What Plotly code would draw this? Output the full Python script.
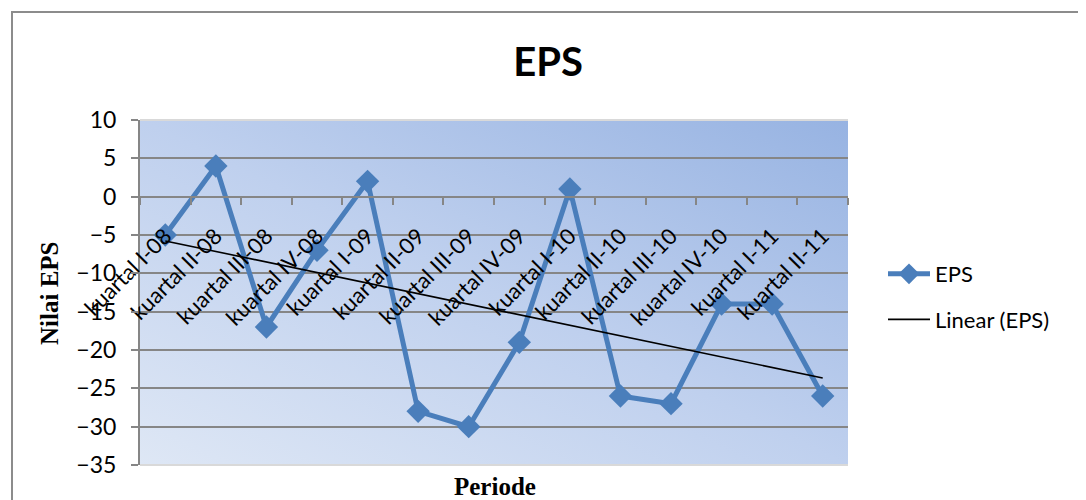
import base64
import numpy as np
import plotly.graph_objects as go

# ---------------- data ----------------
categories = ["kuartal I-08", "kuartal II-08", "kuartal III-08", "kuartal IV-08",
              "kuartal I-09", "kuartal II-09", "kuartal III-09", "kuartal IV-09",
              "kuartal I-10", "kuartal II-10", "kuartal III-10", "kuartal IV-10",
              "kuartal I-11", "kuartal II-11"]
eps_values = [-5, 4, -17, -7, 2, -28, -30, -19, 1, -26, -27, -14, -14, -26]
y_ticks = [10, 5, 0, -5, -10, -15, -20, -25, -30, -35]

# linear trend (Excel "Linear (EPS)")
idx = np.arange(1, len(eps_values) + 1)
slope, intercept = np.polyfit(idx, eps_values, 1)
trend_values = slope * idx + intercept

# ---------------- layout geometry ----------------
OFF = 8                     # page body margin of the rendered html
W, H = 1086 - OFF, 500 - OFF
# plot area in page pixels
L, R, T, B = 140, 848, 120, 465


def px(x):
    return (x - L) / (R - L)


def py(y):
    return (B - y) / (B - T)


BLUE = "#4a7ebb"
GRID = "#868686"

fig = go.Figure()
fig.add_trace(go.Scatter(
    x=categories, y=eps_values, mode="lines+markers", name="EPS",
    line=dict(color=BLUE, width=5),
    marker=dict(symbol="diamond", size=18, color=BLUE),
    legendgroup="a",
))
fig.add_trace(go.Scatter(
    x=categories, y=trend_values, mode="lines", name="Linear (EPS)",
    line=dict(color="black", width=1.6),
    legendgroup="b",
))

# gradient plot-area background
svg = ('<svg xmlns="http://www.w3.org/2000/svg" width="708" height="345" '
       'viewBox="0 0 708 345" preserveAspectRatio="none"><defs>'
       '<linearGradient id="g" x1="0" y1="1" x2="1" y2="0">'
       '<stop offset="0" stop-color="#dee7f5"/>'
       '<stop offset="0.5" stop-color="#bfd0ee"/>'
       '<stop offset="1" stop-color="#97b3e2"/>'
       '</linearGradient></defs>'
       '<rect width="708" height="345" fill="url(#g)"/></svg>')
src = "data:image/svg+xml;base64," + base64.b64encode(svg.encode()).decode()

fig.update_layout(
    width=W, height=H, autosize=False,
    margin=dict(l=L - OFF, r=W - (R - OFF), t=T - OFF, b=H - (B - OFF), autoexpand=False),
    paper_bgcolor="white",
    plot_bgcolor="rgba(0,0,0,0)",
    font=dict(family="Lato, sans-serif", color="black"),
    images=[dict(source=src, xref="paper", yref="paper", x=0, y=1,
                 sizex=1, sizey=1, xanchor="left", yanchor="top",
                 sizing="stretch", layer="below")],
    title=dict(text="<b>EPS</b>", x=(548 - OFF) / W, y=1 - (62 - OFF) / H,
               xanchor="center", yanchor="middle",
               font=dict(family="Lato, sans-serif", size=40, color="black")),
    showlegend=True,
    legend=dict(xref="container", yref="container",
                x=(883 - OFF) / W, y=1 - (253 - OFF) / H,
                xanchor="left", yanchor="top", bgcolor="rgba(0,0,0,0)",
                font=dict(family="Lato, sans-serif", size=22, color="black"),
                traceorder="grouped", tracegroupgap=14, itemwidth=42),
)

fig.update_yaxes(
    range=[-35, 10], tickvals=y_ticks, showgrid=True, gridcolor=GRID, gridwidth=2,
    showline=True, linecolor=GRID, linewidth=2, zeroline=False,
    ticks="outside", ticklen=7, tickwidth=2, tickcolor=GRID, ticklabelstandoff=10,
    tickfont=dict(family="Lato, sans-serif", size=23, color="black"),
)
fig.update_xaxes(
    type="category", range=[-0.5, len(categories) - 0.5],
    anchor="free", position=35 / 45,
    showline=True, linecolor=GRID, linewidth=2, showgrid=False, zeroline=False,
    ticks="outside", tickson="boundaries", ticklen=7, tickwidth=2, tickcolor=GRID,
    tickangle=-45, ticklabelstandoff=17,
    tickfont=dict(family="Lato, sans-serif", size=22, color="black"),
)

# axis titles
fig.add_annotation(text="<b>Periode</b>", xref="paper", yref="paper",
                   x=px(495), y=py(486), xanchor="center", yanchor="middle",
                   showarrow=False,
                   font=dict(family="Liberation Serif, serif", size=25, color="black"))
fig.add_annotation(text="<b>Nilai EPS</b>", xref="paper", yref="paper",
                   x=px(49), y=py(293), xanchor="center", yanchor="middle",
                   showarrow=False, textangle=-90,
                   font=dict(family="Liberation Serif, serif", size=25, color="black"))

# plot area top/bottom light edges and outer chart border
fig.add_shape(type="line", xref="paper", yref="paper", x0=0, x1=1, y0=1, y1=1,
              line=dict(color="#d9d9d9", width=2))
fig.add_shape(type="line", xref="paper", yref="paper", x0=0, x1=1, y0=0, y1=0,
              line=dict(color="#d9d9d9", width=2))
fig.add_shape(type="rect", xref="paper", yref="paper",
              x0=px(12), x1=px(1081), y0=py(12), y1=py(530),
              line=dict(color="#8c8c8c", width=2), layer="below")

fig.write_html("out.html")
